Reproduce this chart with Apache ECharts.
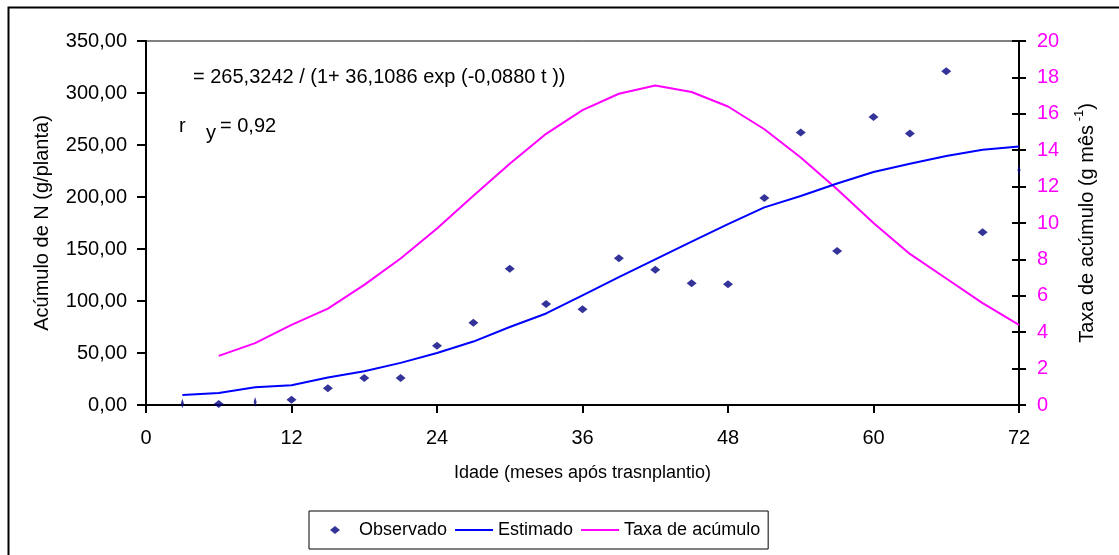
<!DOCTYPE html>
<html>
<head>
<meta charset="utf-8">
<script src="https://cdn.jsdelivr.net/npm/echarts@6/dist/echarts.min.js"></script>
<style>
html,body{margin:0;padding:0;background:#fff;}
#chart{width:1119px;height:555px;}
</style>
</head>
<body>
<div id="chart"></div>
<script>
// Data
const ages = [3, 6, 9, 12, 15, 18, 21, 24, 27, 30, 33, 36, 39, 42, 45, 48, 51, 54, 57, 60, 63, 66, 69, 72];
const observado = [1.5, 1.0, 3.0, 5, 16, 26, 26, 57, 79, 131, 97, 92, 141, 130, 117, 116, 199, 262, 148, 277, 261, 321, 166, 226];
const estimado = [9.5, 11.5, 17, 19, 26.5, 32.5, 40.5, 50, 61, 75, 88, 105.5, 123, 140, 157, 174, 190, 201, 213, 224, 232, 239.5, 245.5, 248.5];
const taxaAges = [6, 9, 12, 15, 18, 21, 24, 27, 30, 33, 36, 39, 42, 45, 48, 51, 54, 57, 60, 63, 66, 69, 72];
const taxa = [2.7, 3.4, 4.4, 5.3, 6.6, 8.05, 9.7, 11.5, 13.25, 14.9, 16.2, 17.1, 17.55, 17.2, 16.4, 15.15, 13.6, 11.85, 10.0, 8.3, 6.95, 5.6, 4.4];
const seriesNames = ['Observado', 'Estimado', 'Taxa de acúmulo'];
const xTitle = 'Idade (meses após trasnplantio)';
const yLeftTitle = 'Acúmulo de N (g/planta)';
const equationText = '= 265,3242 / (1+ 36,1086 exp (-0,0880 t ))';
const rText = '0,92';

const FONT = 'Liberation Sans, Arial, sans-serif';
const FS = 18;
const FL = 20;
const GRID = {left: 146, top: 41, right: 100, bottom: 150};
const GRID_W = 1119 - GRID.left - GRID.right;

const chart = echarts.init(document.getElementById('chart'), null, {renderer: 'canvas'});

const option = {
  animation: false,
  backgroundColor: '#ffffff',
  textStyle: {fontFamily: FONT},
  grid: Object.assign({show: true, borderColor: '#000', borderWidth: 1, backgroundColor: 'transparent'}, GRID),
  legend: {
    left: 309, top: 511,
    padding: [10, 8, 10, 7],
    borderColor: '#000', borderWidth: 1,
    itemWidth: 38, itemHeight: 8, itemGap: 8,
    textStyle: {fontFamily: FONT, fontSize: FS, color: '#000'},
    data: [
      {name: seriesNames[0], icon: 'path://M0,4 M38,4 M19,0 L24,4 L19,8 L14,4 Z', itemStyle: {color: '#000080'}},
      {name: seriesNames[1], icon: 'path://M0,0 M38,8 M0,3 L38,3 L38,5 L0,5 Z', itemStyle: {color: '#0000ff'}},
      {name: seriesNames[2], icon: 'path://M0,0 M38,8 M0,3 L38,3 L38,5 L0,5 Z', itemStyle: {color: '#ff00ff'}}
    ]
  },
  xAxis: [{
    type: 'value', min: 0, max: 72, interval: 12,
    name: xTitle, nameLocation: 'middle', nameGap: 59,
    nameTextStyle: {fontFamily: FONT, fontSize: FS, color: '#000'},
    axisLine: {onZero: false, lineStyle: {color: '#000', width: 2}},
    axisTick: {length: 8, lineStyle: {color: '#000', width: 2}},
    axisLabel: {fontFamily: FONT, fontSize: FL, color: '#000', margin: 23},
    splitLine: {show: false}
  }],
  yAxis: [{
    type: 'value', min: 0, max: 350, interval: 50, position: 'left',
    name: yLeftTitle, nameLocation: 'middle', nameGap: 94, nameRotate: 90,
    nameTextStyle: {fontFamily: FONT, fontSize: FL, color: '#000'},
    axisLine: {show: true, onZero: false, lineStyle: {color: '#000', width: 2}},
    axisTick: {show: true, length: 9, lineStyle: {color: '#000', width: 2}},
    axisLabel: {fontFamily: FONT, fontSize: FL, color: '#000', margin: 19,
      formatter: v => v.toFixed(2).replace('.', ',')},
    splitLine: {show: false}
  }, {
    type: 'value', min: 0, max: 20, interval: 2, position: 'right',
    name: '{a|Taxa de acúmulo (g mês}{s| -1}{a|)}', nameLocation: 'middle', nameGap: 54, nameRotate: 90,
    nameTextStyle: {
      fontFamily: FONT, fontSize: FL, color: '#000',
      rich: {
        a: {fontFamily: FONT, fontSize: FL, color: '#000', lineHeight: 24, verticalAlign: 'bottom'},
        s: {fontFamily: FONT, fontSize: 13, color: '#000', lineHeight: 24, verticalAlign: 'top'}
      }
    },
    axisLine: {show: true, onZero: false, lineStyle: {color: '#000', width: 2}},
    axisTick: {show: true, length: 7, lineStyle: {color: '#000', width: 2}},
    axisLabel: {fontFamily: FONT, fontSize: FL, color: '#ff00ff', margin: 18},
    splitLine: {show: false}
  }, {
    // inward half of the crossing ticks on the right axis
    type: 'value', min: 0, max: 20, interval: 2, position: 'left', offset: -GRID_W,
    axisLine: {show: false},
    axisTick: {show: true, inside: false, length: 7, lineStyle: {color: '#000', width: 2}},
    axisLabel: {show: false},
    splitLine: {show: false}
  }],
  series: [{
    name: seriesNames[0], type: 'scatter', yAxisIndex: 0,
    symbol: 'diamond',
    symbolSize: (val) => (val[0] === 3 || val[0] === 9 || val[0] === 72) ? [3, 10] : [10, 8],
    itemStyle: {color: '#000080'},
    data: ages.map((a, i) => [a, observado[i]]),
    z: 5
  }, {
    name: seriesNames[1], type: 'line', yAxisIndex: 0,
    symbol: 'none', lineStyle: {color: '#0000ff', width: 2}, itemStyle: {color: '#0000ff'},
    data: ages.map((a, i) => [a, estimado[i]]),
    z: 4
  }, {
    name: seriesNames[2], type: 'line', yAxisIndex: 1,
    symbol: 'none', lineStyle: {color: '#ff00ff', width: 2}, itemStyle: {color: '#ff00ff'},
    data: taxaAges.map((a, i) => [a, taxa[i]]),
    z: 3
  }],
  graphic: [
    {type: 'rect', left: 6, top: 5, shape: {width: 1130, height: 570},
     style: {fill: 'none', stroke: '#000', lineWidth: 2}, silent: true, z: -1},
    {type: 'text', left: 193, top: 67,
     style: {text: equationText, font: FL + 'px ' + FONT, fill: '#000'}},
    {type: 'text', left: 179, top: 116,
     style: {text: 'r', font: FL + 'px ' + FONT, fill: '#000'}},
    {type: 'text', left: 206, top: 123,
     style: {text: 'y', font: FL + 'px ' + FONT, fill: '#000'}},
    {type: 'text', left: 220, top: 116,
     style: {text: '= ' + rText, font: FL + 'px ' + FONT, fill: '#000'}}
  ]
};
chart.setOption(option);
</script>
</body>
</html>
